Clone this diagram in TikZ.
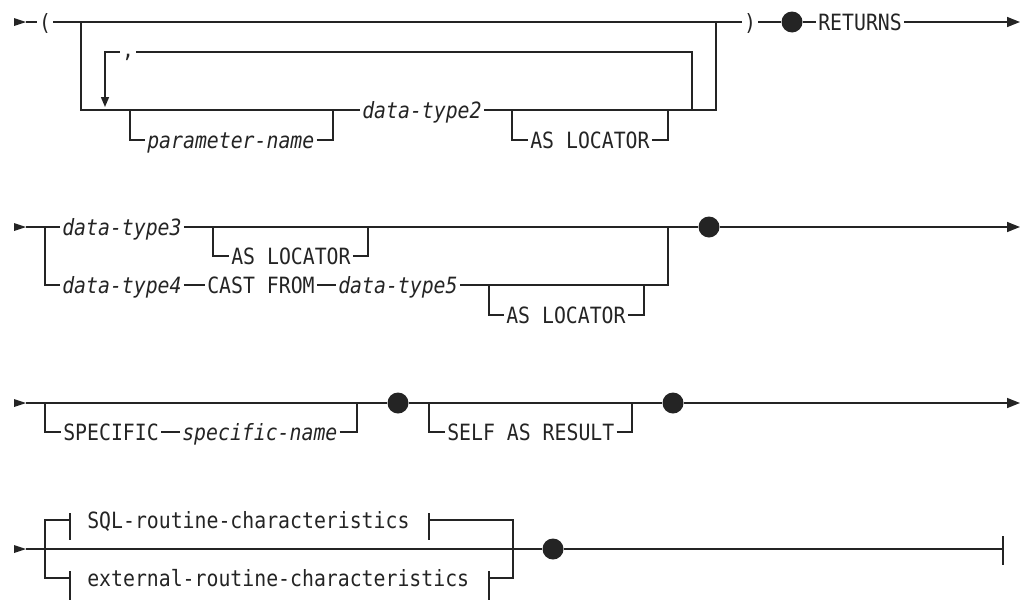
\documentclass[tikz,border=0pt]{standalone}
\usepackage{fontspec}
\usetikzlibrary{arrows.meta,calc}
\newfontfamily\mono[FakeStretch=0.885,ItalicFont={DejaVu Sans Mono Oblique}]{DejaVu Sans Mono}
\definecolor{ink}{rgb}{0.14,0.14,0.14}
\tikzset{
  ln/.style={line width=1.1pt, draw=ink},
  kw/.style={inner xsep=1.5pt, inner ysep=0pt, text height=12.2pt, text depth=0pt,
             anchor=west, text=ink, font=\mono\fontsize{16.8pt}{19pt}\selectfont},
  var/.style={kw, font=\mono\itshape\fontsize{16.8pt}{19pt}\selectfont},
  dot/.style={circle, fill=ink, minimum size=15.75pt, inner sep=0pt},
  endtip/.style={-{Triangle[length=9.75pt,width=7.5pt]}},
  downtip/.style={-{Triangle[length=7.5pt,width=6pt]}},
  startmark/.style={fill=ink},
}
\begin{document}
\begin{tikzpicture}[x=0.75pt,y=-0.75pt]
\useasboundingbox (0,0) rectangle (1024,600);

% ---------------- Row 1 ----------------
\fill[startmark] (14,18) -- (26,22) -- (14,26) -- cycle;
\coordinate (s1) at (26,22);
\node[kw,anchor=center] (lp) at (45,22) {(};
\node[kw,anchor=center] (rp) at (750,22) {)};
\coordinate (a1) at (81,22);
\coordinate (a2) at (716,22);
\coordinate (p1) at (130,110);
\coordinate (p2) at (333,110);
\coordinate (p3) at (512,110);
\coordinate (p4) at (668,110);
\coordinate (p5) at (692,110);
\coordinate (c1) at (105,107);
\node[var] (dt2) at (360,110) {data-type2};
\node[var] (pn) at (145,140) {parameter-name};
\node[kw] (al1) at (528,140) {AS LOCATOR};
\node[kw,anchor=center,text height=8pt] (cm) at (128,52) {,};
\node[dot] (d1) at (792,22) {};
\node[kw] (ret) at (816,22) {RETURNS};
\coordinate (e1) at (1020,22);

\draw[ln] (s1) -- (lp);
\draw[ln] (lp) -- (rp);
\draw[ln] (a1) |- (dt2);
\draw[ln] (dt2) -| (a2);
\draw[ln] (p1) |- (pn);
\draw[ln] (pn) -| (p2);
\draw[ln] (p3) |- (al1);
\draw[ln] (al1) -| (p4);
\draw[ln] (p5) |- (cm);
\draw[ln,downtip] (cm) -| (c1);
\draw[ln] (rp) -- (d1);
\draw[ln] (d1) -- (ret);
\draw[ln,endtip] (ret) -- (e1);

% ---------------- Row 2 ----------------
\fill[startmark] (14,223) -- (26,227) -- (14,231) -- cycle;
\coordinate (s2) at (26,227);
\coordinate (q0) at (45,227);
\coordinate (q1) at (213,227);
\coordinate (q2) at (368,227);
\coordinate (q3) at (668,227);
\coordinate (r1) at (489,285);
\coordinate (r2) at (644,285);
\node[var] (dt3) at (60,227) {data-type3};
\node[kw] (al2) at (229,256) {AS LOCATOR};
\node[var] (dt4) at (60,285) {data-type4};
\node[kw] (cast) at (205,285) {CAST FROM};
\node[var] (dt5) at (336,285) {data-type5};
\node[kw] (al3) at (504,315) {AS LOCATOR};
\node[dot] (d2) at (709,227) {};
\coordinate (e2) at (1020,227);

\draw[ln] (s2) -- (dt3);
\draw[ln] (dt3) -- (d2);
\draw[ln] (q1) |- (al2);
\draw[ln] (al2) -| (q2);
\draw[ln] (q0) |- (dt4);
\draw[ln] (dt4) -- (cast);
\draw[ln] (cast) -- (dt5);
\draw[ln] (dt5) -| (q3);
\draw[ln] (r1) |- (al3);
\draw[ln] (al3) -| (r2);
\draw[ln,endtip] (d2) -- (e2);

% ---------------- Row 3 ----------------
\fill[startmark] (14,399) -- (26,403) -- (14,407) -- cycle;
\coordinate (s3) at (26,403);
\coordinate (t0) at (45,403);
\coordinate (t1) at (357,403);
\coordinate (t2) at (429,403);
\coordinate (t3) at (632,403);
\node[kw] (spec) at (61,432) {SPECIFIC};
\node[var] (specn) at (180,432) {specific-name};
\node[kw] (self) at (445,432) {SELF AS RESULT};
\node[dot] (d3) at (398,403) {};
\node[dot] (d4) at (673,403) {};
\coordinate (e3) at (1020,403);

\draw[ln] (s3) -- (d3);
\draw[ln] (d3) -- (d4);
\draw[ln,endtip] (d4) -- (e3);
\draw[ln] (t0) |- (spec);
\draw[ln] (spec) -- (specn);
\draw[ln] (specn) -| (t1);
\draw[ln] (t2) |- (self);
\draw[ln] (self) -| (t3);

% ---------------- Row 4 ----------------
\fill[startmark] (14,545) -- (26,549) -- (14,553) -- cycle;
\coordinate (s4) at (26,549);
\coordinate (u0) at (45,549);
\coordinate (u1) at (513,549);
\coordinate (ub) at (70,520);
\coordinate (uc) at (429,520);
\coordinate (uf) at (70,578);
\coordinate (ug) at (489,578);
\node[kw] (sql) at (85,520) {SQL-routine-characteristics};
\node[kw] (ext) at (85,578) {external-routine-characteristics};
\node[dot] (d5) at (553,549) {};
\coordinate (e4) at (1003,549);

\draw[ln] (s4) -- (d5);
\draw[ln] (d5) -- (e4);
\draw[ln] ($(e4)+(0,-13)$) -- ($(e4)+(0,16)$);
\draw[ln] (u0) |- (ub);
\draw[ln] (u0) |- (uf);
\draw[ln] (70,513) -- (70,540);
\draw[ln] (429,513) -- (429,540);
\draw[ln] (uc) -| (u1);
\draw[ln] (70,571) -- (70,600);
\draw[ln] (489,571) -- (489,600);
\draw[ln] (ug) -| (u1);
\end{tikzpicture}
\end{document}
